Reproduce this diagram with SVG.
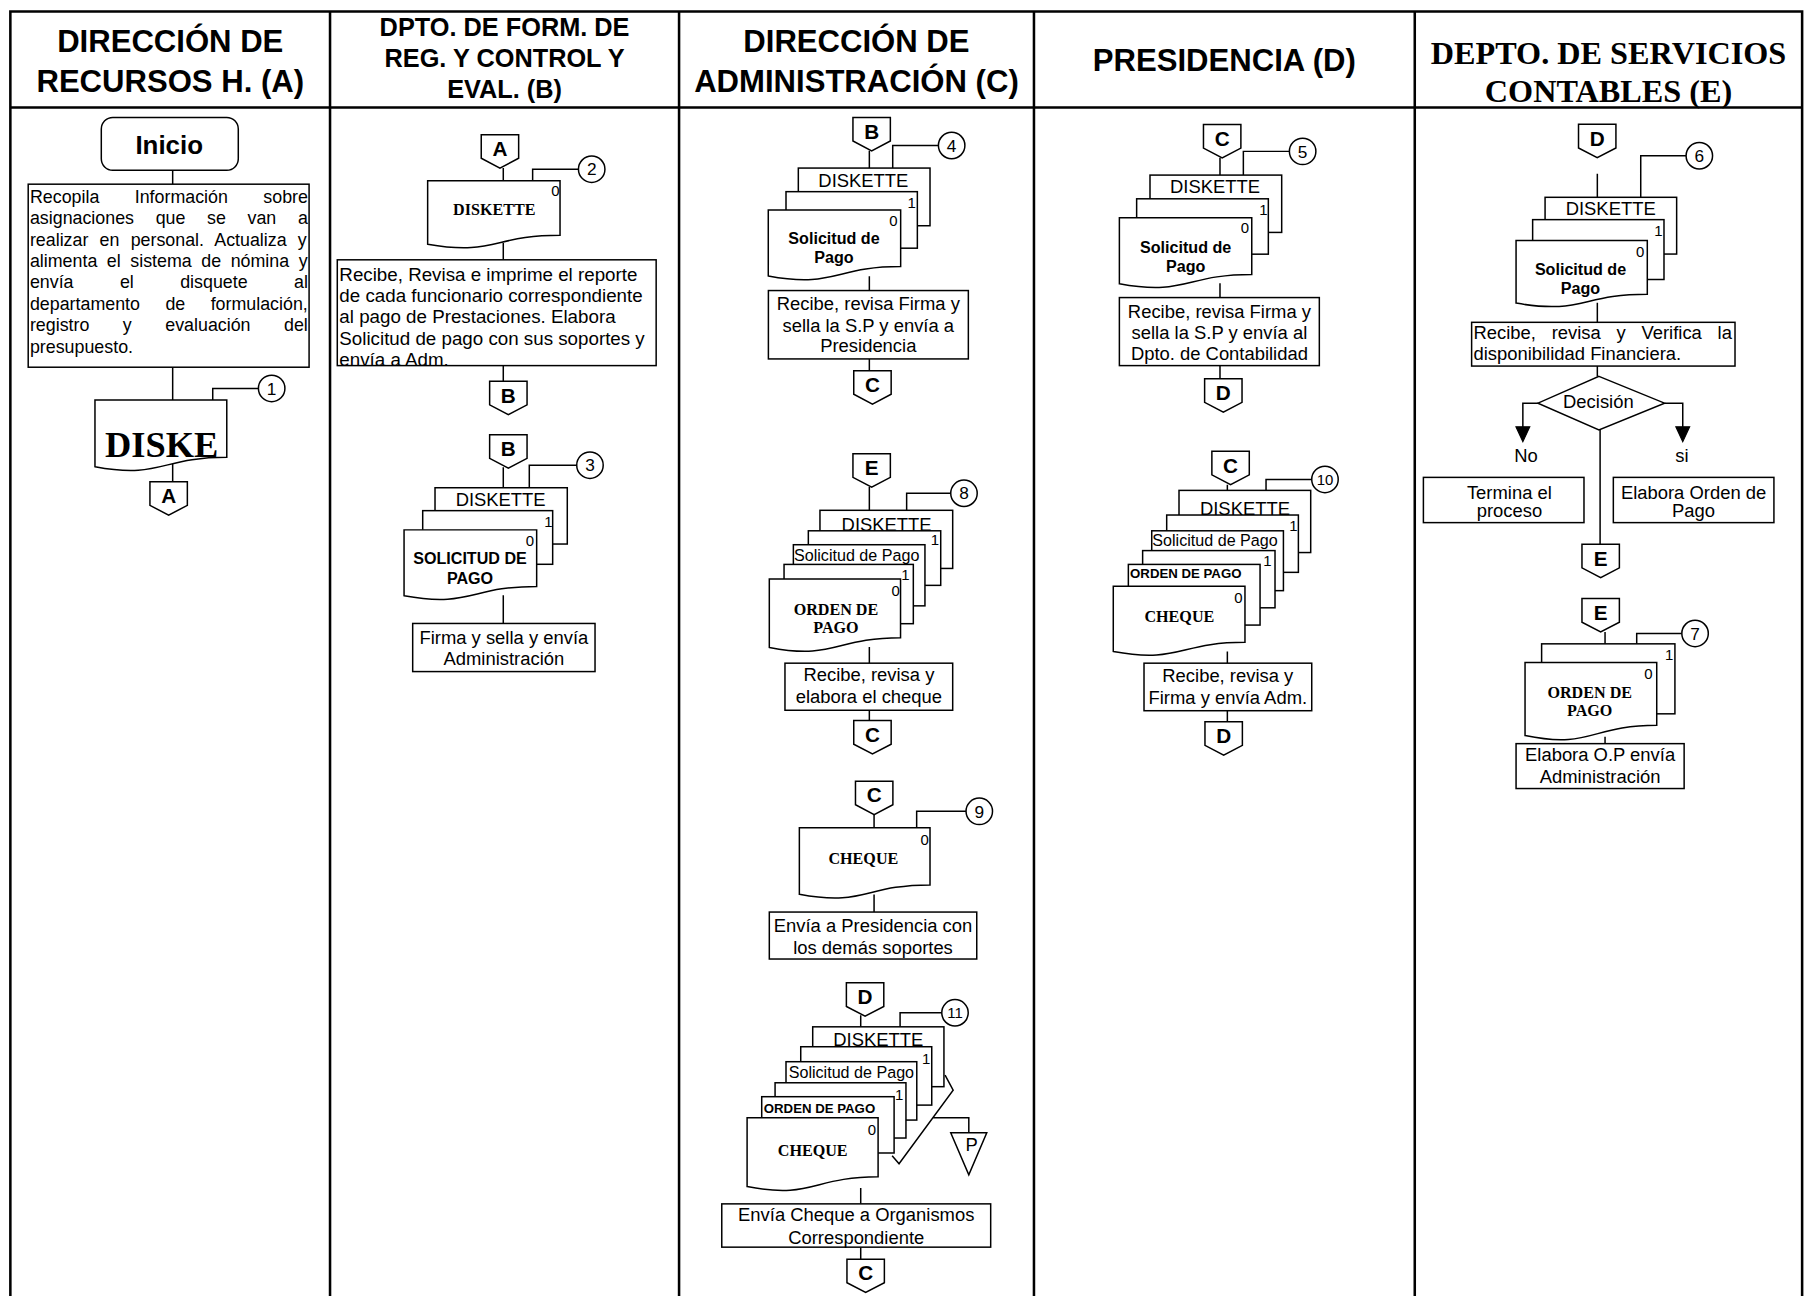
<svg xmlns="http://www.w3.org/2000/svg" width="1805" height="1296" viewBox="0 0 1805 1296">
<style>
.s{fill:#fff;stroke:#000;stroke-width:1.3}
.l{fill:none;stroke:#000;stroke-width:1.3}
.fr{fill:none;stroke:#000;stroke-width:2.2}
.ah{fill:#000;stroke:#000;stroke-width:1}
text{font-family:"Liberation Sans",Arial,sans-serif;fill:#000}
.h{font-weight:bold;font-size:27px;text-anchor:middle}
.hb{font-weight:bold;font-size:22px;text-anchor:middle}
.he{font-family:"Liberation Serif","Times New Roman",serif;font-weight:bold;font-size:28px;text-anchor:middle}
.t{font-size:16px}
.m{text-anchor:middle}
.k{font-weight:bold;font-size:18px;text-anchor:middle}
.n{font-size:15px;text-anchor:middle}
.n2{font-size:13px;text-anchor:middle}
.z{font-size:13px;text-anchor:middle}
.db{font-weight:bold;font-size:14px;text-anchor:middle}
.dt{font-family:"Liberation Serif","Times New Roman",serif;font-weight:bold;font-size:14px;text-anchor:middle}
.dk{font-family:"Liberation Serif","Times New Roman",serif;font-weight:bold;font-size:31.7px}
.sp{font-size:14px;text-anchor:middle}
.op{font-weight:bold;font-size:11.5px}
</style>
<defs>
<path id="cn" class="s" d="M-16.25,0H16.25V20.5L0,29L-16.25,20.5Z"/>
</defs>
<g transform="scale(1.15115)">
<g id="frame" class="fr">
<path d="M9,1130V10H1565.5V1130M9,93.3H1565.5M286.7,10V1130M589.9,10V1130M898.2,10V1130M1229,10V1130"/>
</g>
<g id="lane-a"><text class="h" x="147.9" y="45">DIRECCIÓN DE</text><text class="h" x="147.9" y="80">RECURSOS H. (A)</text></g>
<g id="lane-b"><text class="hb" x="438.3" y="31">DPTO. DE FORM. DE</text><text class="hb" x="438.3" y="58">REG. Y CONTROL Y</text><text class="hb" x="438.3" y="85">EVAL. (B)</text></g>
<g id="lane-c"><text class="h" x="744" y="45">DIRECCIÓN DE</text><text class="h" x="744" y="80">ADMINISTRACIÓN (C)</text></g>
<g id="lane-d"><text class="h" x="1063.6" y="62">PRESIDENCIA (D)</text></g>
<g id="lane-e"><text class="he" x="1397.3" y="56">DEPTO. DE SERVICIOS</text><text class="he" x="1397.3" y="89">CONTABLES (E)</text></g>

<g id="connectors" class="l">
<path d="M150,147.4V160M150,319V347.5M150,402.7V418.5M184.8,347.5V337.4H224.5"/>
<path d="M437.2,146V157M437.2,211V225.7M437.2,317.6V331.2M462.7,157V147H502.5M437.2,406V423.7M459.8,423.7V404.1H501M437.2,517V541.6"/>
<path d="M755.2,131V146M775.5,146V126.4H815.2M755.2,240V252.4M755.2,311.8V322"/>
<path d="M755.2,423V443.3M787.6,443.3V428.5H825.9M755.2,562V576.1M755.2,617V626"/>
<path d="M759.3,707V719M796.3,719V704.8H839.2M759.3,777V792.3"/>
<path d="M747.7,882V892M781.9,892V879.8H818.1M747.7,1032V1045.8M747.7,1083.4V1093.8"/>
<path d="M821,934L828,947L781,1011L775,1004M810.4,971H841.6V984"/>
<path d="M1059.8,137V152.1M1080.1,152.1V131.5H1120.1M1059.8,246V258.5M1059.8,317.6V329"/>
<path d="M1066.2,421V426M1099.8,426V416.5H1139.5M1066.2,566V576.1M1066.2,617.4V627"/>
<path d="M1387.6,150.9V171.4M1425.3,171.4V135.3H1464.7M1387.6,263V280M1387.6,318V327"/>
<path d="M1336,350.2H1322.9V371M1446,350.2H1461.8V371M1390,373.5V472.8M1394.3,549V559.3M1421.8,559.3V550.3H1461M1394.3,640V646"/>
<polygon class="ah" points="1316.9,370.7 1328.9,370.7 1322.9,383.7"/>
<polygon class="ah" points="1455.8,370.7 1467.8,370.7 1461.8,383.7"/>
<text class="t m" x="1325.7" y="401" stroke="none">No</text>
<text class="t m" x="1461" y="401" stroke="none">si</text>
</g>

<!-- Column A -->
<g id="start"><rect class="s" x="88" y="102" width="119" height="46" rx="10"/><text class="m" x="147" y="133.4" font-weight="bold" font-size="22.5">Inicio</text></g>
<g id="a-task"><rect class="s" x="24.5" y="160" width="244" height="159"/>
<g font-size="15.5">
<text x="26" y="176" word-spacing="26.5">Recopila Información sobre</text>
<text x="26" y="194.8" word-spacing="14.5">asignaciones que se van a</text>
<text x="26" y="213.4" word-spacing="5.45">realizar en personal. Actualiza y</text>
<text x="26" y="232" word-spacing="4">alimenta el sistema de nómina y</text>
<text x="26" y="250.6" word-spacing="36">envía el disquete al</text>
<text x="26" y="269.2" word-spacing="17.8">departamento de formulación,</text>
<text x="26" y="287.8" word-spacing="24.8">registro y evaluación del</text>
<text x="26" y="306.4">presupuesto.</text>
</g></g>
<g id="a-doc"><path class="s" d="M82.5,347.5H197V397.2C139.75,397.2 139.75,416.1 82.5,405.4Z"/><text class="dk" x="91.2" y="397.3" textLength="98.5" lengthAdjust="spacingAndGlyphs">DISKE</text></g>
<g id="ref-1"><circle class="s" cx="236" cy="337.4" r="11.5"/><text class="n" x="236" y="342.8">1</text></g>
<g id="a-off-a"><use href="#cn" x="146.5" y="418.5"/><text class="k" x="146.5" y="437">A</text></g>

<!-- Column B -->
<g id="b-off-a"><use href="#cn" x="434.3" y="117"/><text class="k" x="434.3" y="135.5">A</text></g>
<g id="b-doc1"><path class="s" d="M371.5,157H486.5V204.3C429,204.3 429,222.3 371.5,212.1Z"/><text class="z" x="482.5" y="170">0</text><text class="dt" x="429.4" y="187">DISKETTE</text></g>
<g id="ref-2"><circle class="s" cx="514" cy="147" r="11.5"/><text class="n" x="514" y="152.4">2</text></g>
<g id="b-task1"><rect class="s" x="293" y="225.7" width="277" height="91.9"/>
<g font-size="16.3">
<text x="294.8" y="243.7">Recibe, Revisa e imprime el reporte</text>
<text x="294.8" y="262.3">de cada funcionario correspondiente</text>
<text x="294.8" y="281">al pago de Prestaciones. Elabora</text>
<text x="294.8" y="300">Solicitud de pago con sus soportes y</text>
<text x="294.8" y="317.7">envía a Adm.</text>
</g></g>
<g id="b-off-b1"><use href="#cn" x="441.6" y="331.2"/><text class="k" x="441.6" y="349.7">B</text></g>
<g id="b-off-b2"><use href="#cn" x="441.6" y="377.7"/><text class="k" x="441.6" y="396.2">B</text></g>
<g id="b-docs2">
<rect class="s" x="377.9" y="423.7" width="114.9" height="48.9"/>
<text class="t m" x="434.9" y="439.5">DISKETTE</text>
<rect class="s" x="367.2" y="443.6" width="112.9" height="46.6"/>
<text class="z" x="476.3" y="458">1</text>
<path class="s" d="M351,460.3H466.2V509.4C408.6,509.4 408.6,528 351,517.5Z"/>
<text class="z" x="460.4" y="474">0</text>
<text class="db" x="408.3" y="490.3" font-size="13.7">SOLICITUD DE</text>
<text class="db" x="408.3" y="507" font-size="13.7">PAGO</text>
</g>
<g id="ref-3"><circle class="s" cx="512.5" cy="404.1" r="11.5"/><text class="n" x="512.5" y="409.5">3</text></g>
<g id="b-task2"><rect class="s" x="358.5" y="541.6" width="158.4" height="41.8"/><text class="t m" x="437.7" y="559.3">Firma y sella y envía</text><text class="t m" x="437.7" y="577.3">Administración</text></g>

<!-- Column C block 1 -->
<g id="c-off-b"><use href="#cn" x="757.2" y="102"/><text class="k" x="757.2" y="120.5">B</text></g>
<g id="c-docs1">
<rect class="s" x="693.5" y="146" width="114.4" height="50.1"/>
<text class="t m" x="750" y="162.5">DISKETTE</text>
<rect class="s" x="682.8" y="166.5" width="114.1" height="49.1"/>
<text class="z" x="792" y="180.5">1</text>
<path class="s" d="M667.4,182.4H782.4V231.6C724.9,231.6 724.9,250.3 667.4,239.7Z"/>
<text class="z" x="776" y="196.5">0</text>
<text class="db" x="724.5" y="212">Solicitud de</text>
<text class="db" x="724.5" y="228.5">Pago</text>
</g>
<g id="ref-4"><circle class="s" cx="826.7" cy="126.4" r="11.5"/><text class="n" x="826.7" y="131.8">4</text></g>
<g id="c-task1"><rect class="s" x="667.5" y="252.4" width="173.7" height="59.4"/><text class="t m" x="754.3" y="269.5">Recibe, revisa Firma y</text><text class="t m" x="754.3" y="288.4">sella la S.P y envía a</text><text class="t m" x="754.3" y="306.2">Presidencia</text></g>
<g id="c-off-c1"><use href="#cn" x="757.9" y="322"/><text class="k" x="757.9" y="340.5">C</text></g>

<!-- Column C block 2 -->
<g id="c-off-e"><use href="#cn" x="757.2" y="394.2"/><text class="k" x="757.2" y="412.7">E</text></g>
<g id="c-docs2">
<rect class="s" x="712.3" y="443.3" width="115.3" height="50.5"/>
<text class="t m" x="770.2" y="461.5">DISKETTE</text>
<rect class="s" x="702.2" y="461.1" width="115" height="47.4"/>
<text class="z" x="812.2" y="473.5">1</text>
<rect class="s" x="689.2" y="473.2" width="114.3" height="53.1"/>
<text class="sp" x="744.2" y="487.5">Solicitud de Pago</text>
<rect class="s" x="681.1" y="490.3" width="112.3" height="51.5"/>
<text class="z" x="786.6" y="504">1</text>
<path class="s" d="M668.3,503H782.3V554C725.3,554 725.3,573.4 668.3,562.4Z"/>
<text class="z" x="778" y="517.5">0</text>
<text class="dt" x="726.2" y="534">ORDEN DE</text>
<text class="dt" x="726.2" y="549.5">PAGO</text>
</g>
<g id="ref-8"><circle class="s" cx="837.4" cy="428.5" r="11.5"/><text class="n" x="837.4" y="433.9">8</text></g>
<g id="c-task2"><rect class="s" x="681.9" y="576.1" width="145.7" height="40.9"/><text class="t m" x="754.8" y="592">Recibe, revisa y</text><text class="t m" x="754.8" y="610.5">elabora el cheque</text></g>
<g id="c-off-c2"><use href="#cn" x="757.9" y="626"/><text class="k" x="757.9" y="644.5">C</text></g>

<!-- Column C block 3 -->
<g id="c-off-c3"><use href="#cn" x="759.4" y="678.6"/><text class="k" x="759.4" y="697.1">C</text></g>
<g id="c-doc3"><path class="s" d="M694.4,719H807.9V768.7C751.2,768.7 751.2,787.6 694.4,776.9Z"/><text class="z" x="803.2" y="734">0</text><text class="dt" x="750" y="750.8">CHEQUE</text></g>
<g id="ref-9"><circle class="s" cx="850.7" cy="704.8" r="11.5"/><text class="n" x="850.7" y="710.2">9</text></g>
<g id="c-task3"><rect class="s" x="668.3" y="792.3" width="180.2" height="40.8"/><text class="t m" x="758.4" y="809.8">Envía a Presidencia con</text><text class="t m" x="758.4" y="828.6">los demás soportes</text></g>

<!-- Column C block 4 -->
<g id="c-off-d"><use href="#cn" x="751.5" y="853.8"/><text class="k" x="751.5" y="872.3">D</text></g>
<g id="c-docs4">
<rect class="s" x="706" y="892" width="114" height="52"/>
<text class="t m" x="763" y="909">DISKETTE</text>
<rect class="s" x="695.6" y="909.3" width="113.8" height="50.7"/>
<text class="z" x="804.5" y="924">1</text>
<rect class="s" x="682.8" y="922.3" width="113.6" height="50.7"/>
<text class="sp" x="739.6" y="936.5">Solicitud de Pago</text>
<rect class="s" x="673.3" y="940.6" width="113.7" height="48"/>
<text class="z" x="781" y="956">1</text>
<rect class="s" x="661.7" y="952.7" width="115" height="48.9"/>
<text class="op" x="663.5" y="966.5">ORDEN DE PAGO</text>
<path class="s" d="M649,971H762.8V1022.3C705.9,1022.3 705.9,1041.8 649,1030.8Z"/>
<text class="z" x="757.5" y="986">0</text>
<text class="dt" x="706" y="1004">CHEQUE</text>
</g>
<g id="ref-11"><circle class="s" cx="829.6" cy="879.8" r="11.5"/><text class="n2" x="829.6" y="884.5">11</text></g>
<g id="c-off-p"><path class="s" d="M825.9,984H857.2L841.6,1020.6Z"/><text class="t m" x="844" y="999.5" font-size="17">P</text></g>
<g id="c-task4"><rect class="s" x="627" y="1045.8" width="233.6" height="37.6"/><text class="t m" x="743.8" y="1061">Envía Cheque a Organismos</text><text class="t m" x="743.8" y="1080.3">Correspondiente</text></g>
<g id="c-off-c4"><use href="#cn" x="752" y="1093.8"/><text class="k" x="752" y="1112.3">C</text></g>

<!-- Column D block 1 -->
<g id="d-off-c1"><use href="#cn" x="1061.7" y="108.2"/><text class="k" x="1061.7" y="126.7">C</text></g>
<g id="d-docs1">
<rect class="s" x="999" y="152.1" width="114.4" height="49.8"/>
<text class="t m" x="1055.5" y="168">DISKETTE</text>
<rect class="s" x="987.4" y="172.7" width="114.4" height="48.1"/>
<text class="z" x="1097.5" y="186.5">1</text>
<path class="s" d="M972.4,189.2H1087.4V238.4C1029.9,238.4 1029.9,257.1 972.4,246.5Z"/>
<text class="z" x="1081.5" y="202.5">0</text>
<text class="db" x="1030" y="219.5">Solicitud de</text>
<text class="db" x="1030" y="236">Pago</text>
</g>
<g id="ref-5"><circle class="s" cx="1131.6" cy="131.5" r="11.5"/><text class="n" x="1131.6" y="136.9">5</text></g>
<g id="d-task1"><rect class="s" x="972.4" y="258.5" width="173.7" height="59.1"/><text class="t m" x="1059.3" y="276.4">Recibe, revisa Firma y</text><text class="t m" x="1059.3" y="294.6">sella la S.P y envía al</text><text class="t m" x="1059.3" y="312.4">Dpto. de Contabilidad</text></g>
<g id="d-off-d1"><use href="#cn" x="1062.7" y="329"/><text class="k" x="1062.7" y="347.5">D</text></g>

<!-- Column D block 2 -->
<g id="d-off-c2"><use href="#cn" x="1069" y="392"/><text class="k" x="1069" y="410.5">C</text></g>
<g id="d-docs2">
<rect class="s" x="1024.2" y="426" width="114.4" height="54"/>
<text class="t m" x="1081.5" y="447">DISKETTE</text>
<rect class="s" x="1013.5" y="447.4" width="114.4" height="49.8"/>
<text class="z" x="1123.5" y="461">1</text>
<rect class="s" x="1000.5" y="461.1" width="114.4" height="52"/>
<text class="sp" x="1055.5" y="474.5">Solicitud de Pago</text>
<rect class="s" x="992.6" y="478.3" width="115" height="49.7"/>
<text class="z" x="1100.9" y="491.5">1</text>
<rect class="s" x="980.2" y="490.3" width="114.4" height="52.7"/>
<text class="op" x="981.7" y="502.5">ORDEN DE PAGO</text>
<path class="s" d="M967.1,509.2H1081.5V557.9C1024.3,557.9 1024.3,576.4 967.1,565.9Z"/>
<text class="z" x="1075.8" y="523.5">0</text>
<text class="dt" x="1024.5" y="540">CHEQUE</text>
</g>
<g id="ref-10"><circle class="s" cx="1151" cy="416.5" r="11.5"/><text class="n2" x="1151" y="421.2">10</text></g>
<g id="d-task2"><rect class="s" x="993.8" y="576.1" width="145.7" height="41.3"/><text class="t m" x="1066.6" y="592.7">Recibe, revisa y</text><text class="t m" x="1066.6" y="611.5">Firma y envía Adm.</text></g>
<g id="d-off-d2"><use href="#cn" x="1063" y="627"/><text class="k" x="1063" y="645.5">D</text></g>

<!-- Column E -->
<g id="e-off-d"><use href="#cn" x="1387.5" y="108"/><text class="k" x="1387.5" y="126.5">D</text></g>
<g id="e-docs1">
<rect class="s" x="1342.2" y="171.4" width="114.3" height="49.3"/>
<text class="t m" x="1399.2" y="187">DISKETTE</text>
<rect class="s" x="1331.4" y="190.8" width="114.1" height="52"/>
<text class="z" x="1440.6" y="205">1</text>
<path class="s" d="M1317,209H1431V255.6C1374,255.6 1374,273.3 1317,263.3Z"/>
<text class="z" x="1424.7" y="223">0</text>
<text class="db" x="1373" y="238.5">Solicitud de</text>
<text class="db" x="1373" y="255">Pago</text>
</g>
<g id="ref-6"><circle class="s" cx="1476.2" cy="135.3" r="11.5"/><text class="n" x="1476.2" y="140.7">6</text></g>
<g id="e-task1"><rect class="s" x="1278.4" y="280" width="228.8" height="38"/><text class="t" x="1280" y="294.5" word-spacing="9.25">Recibe, revisa y Verifica la</text><text class="t" x="1280" y="313">disponibilidad Financiera.</text></g>
<g id="e-decision"><polygon class="s" points="1389,327 1446,350.2 1389,373.5 1336,350.2"/><text class="t m" x="1388.5" y="354">Decisión</text></g>
<g id="e-end"><rect class="s" x="1236.5" y="414.7" width="139.5" height="39.3"/><text class="t m" x="1311.2" y="433.8">Termina el</text><text class="t m" x="1311.2" y="449.4">proceso</text></g>
<g id="e-op"><rect class="s" x="1401.5" y="414.7" width="139.5" height="39.3"/><text class="t m" x="1471.2" y="433.8">Elabora Orden de</text><text class="t m" x="1471.2" y="449.4">Pago</text></g>
<g id="e-off-e1"><use href="#cn" x="1390.5" y="472.8"/><text class="k" x="1390.5" y="491.3">E</text></g>
<g id="e-off-e2"><use href="#cn" x="1390.5" y="520"/><text class="k" x="1390.5" y="538.5">E</text></g>
<g id="e-docs2">
<rect class="s" x="1339.2" y="559.3" width="115.8" height="60.8"/>
<text class="z" x="1450" y="573">1</text>
<path class="s" d="M1324.8,575.5H1439.2V630C1382,630 1382,650.8 1324.8,639Z"/>
<text class="z" x="1432" y="589.5">0</text>
<text class="dt" x="1381" y="606">ORDEN DE</text>
<text class="dt" x="1381" y="622">PAGO</text>
</g>
<g id="ref-7"><circle class="s" cx="1472.5" cy="550.3" r="11.5"/><text class="n" x="1472.5" y="555.7">7</text></g>
<g id="e-task2"><rect class="s" x="1317" y="646" width="146" height="39"/><text class="t m" x="1390" y="661.5">Elabora O.P envía</text><text class="t m" x="1390" y="680">Administración</text></g>
</g>
</svg>
